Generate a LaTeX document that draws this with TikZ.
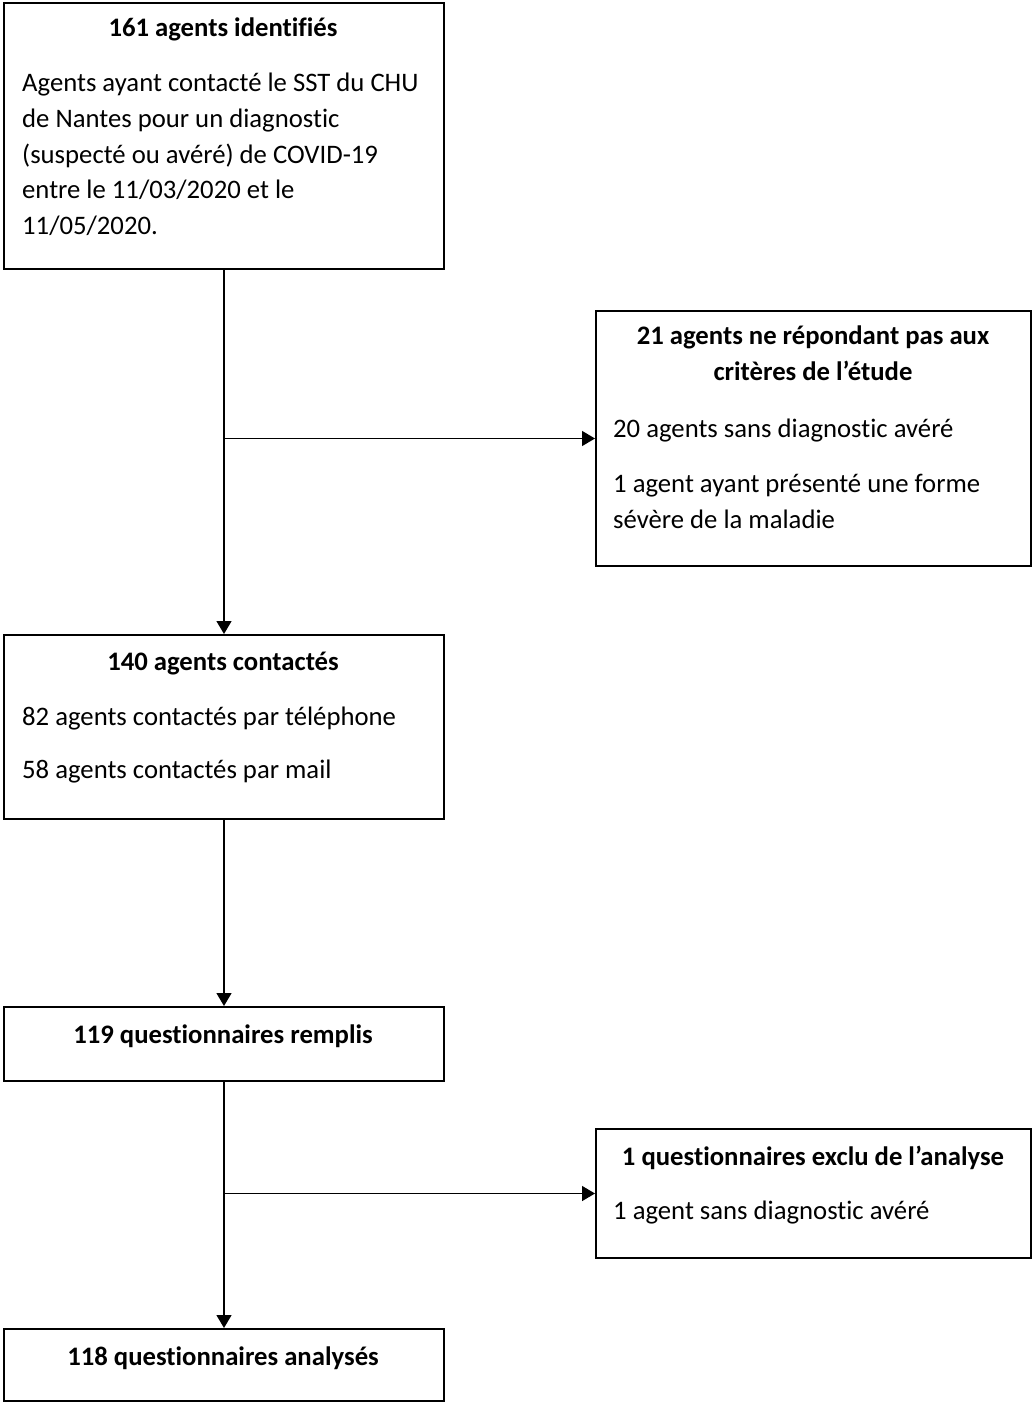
\documentclass[tikz,border=0pt]{standalone}
\usepackage{fontspec}
\setmainfont{Carlito}[Ligatures={NoCommon},RawFeature={-liga;-clig;-dlig}]
\usetikzlibrary{arrows.meta}
\begin{document}
\begin{tikzpicture}[x=1pt,y=-1pt,
  box/.style={draw=black,line width=2pt,rectangle,inner sep=0pt,anchor=north west},
  ttl/.style={inner sep=0pt,anchor=base,font=\fontsize{26.7}{35.6}\selectfont\bfseries},
  txt/.style={inner sep=0pt,anchor=base west,font=\fontsize{26.7}{35.6}\selectfont},
  arr/.style={line width=1.4pt,-{Triangle[width=15pt,length=13pt]}},
  ln/.style={line width=1.4pt}]
\useasboundingbox (0,0) rectangle (1032,1404);
% boxes
\node[box,minimum width=440pt,minimum height=266pt] (b1) at (3,2) {};
\node[box,minimum width=435pt,minimum height=255pt] (b2) at (595,310) {};
\node[box,minimum width=440pt,minimum height=184pt] (b3) at (3,634) {};
\node[box,minimum width=440pt,minimum height=74pt] (b4) at (3,1006) {};
\node[box,minimum width=435pt,minimum height=129pt] (b5) at (595,1128) {};
\node[box,minimum width=440pt,minimum height=72pt] (b6) at (3,1328) {};
% box 1
\node[ttl] (t1) at (223,37) {161 agents identifiés};
\node[txt] (t1a) at (22,92) {Agents ayant contacté le SST du CHU};
\node[txt] (t1b) at (22,128) {de Nantes pour un diagnostic};
\node[txt] (t1c) at (22,164) {(suspecté ou avéré) de COVID-19};
\node[txt] (t1d) at (22,199) {entre le 11/03/2020 et le};
\node[txt] (t1e) at (22,235) {11/05/2020.};
% box 2
\node[ttl] (t2) at (813,344) {21 agents ne répondant pas aux};
\node[ttl] (t2b) at (813,380) {critères de l’étude};
\node[txt] (t2c) at (613,437) {20 agents sans diagnostic avéré};
\node[txt] (t2d) at (613,492) {1 agent ayant présenté une forme};
\node[txt] (t2e) at (613,528) {sévère de la maladie};
% box 3
\node[ttl] (t3) at (223,670) {140 agents contactés};
\node[txt] (t3a) at (22,725) {82 agents contactés par téléphone};
\node[txt] (t3b) at (22,778) {58 agents contactés par mail};
% box 4
\node[ttl] (t4) at (223,1043) {119 questionnaires remplis};
% box 5
\node[ttl] (t5) at (813,1165) {1 questionnaires exclu de l’analyse};
\node[txt] (t5a) at (613,1219) {1 agent sans diagnostic avéré};
% box 6
\node[ttl] (t6) at (223,1365) {118 questionnaires analysés};
% connectors
\coordinate (j1) at (b1.south |- b2.west);
\coordinate (j2) at (b4.south |- b5.west);
\draw[arr] (b1.south) -- (b3.north);
\draw[arr] (j1) -- (b2.west);
\draw[arr] (b3.south) -- (b4.north);
\draw[arr] (b4.south) -- (b6.north);
\draw[arr] (j2) -- (b5.west);
\end{tikzpicture}
\end{document}
